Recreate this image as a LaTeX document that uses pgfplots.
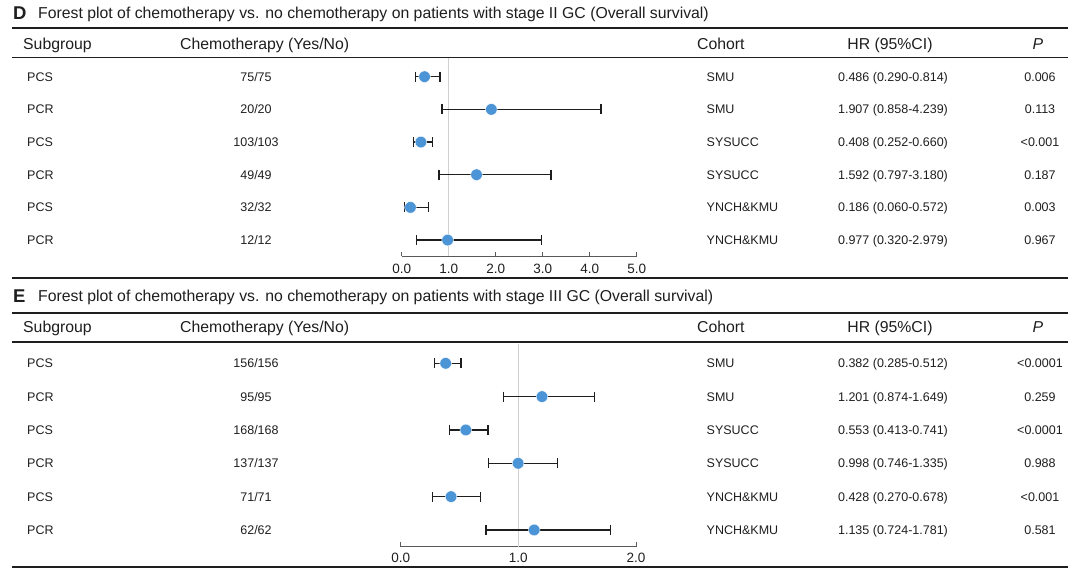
\documentclass[border=0pt]{standalone}
\usepackage{fontspec}
\setmainfont{Liberation Sans}
\usepackage{pgfplots}
\usepackage{pgfplotstable}
\pgfplotsset{compat=1.18}
\definecolor{dotblue}{RGB}{75,148,214}
\definecolor{ink}{RGB}{30,30,30}
\newcommand\rowfont{\fontsize{12.5}{15}\selectfont}
\newcommand\hdrfont{\fontsize{15.8}{18}\selectfont}
\pgfplotstableread{
hr lo hi y
0.486 0.290 0.814 1
1.907 0.858 4.239 2
0.408 0.252 0.660 3
1.592 0.797 3.180 4
0.186 0.060 0.572 5
0.977 0.320 2.979 6
}\dataD
\pgfplotstableread{
hr lo hi y
0.382 0.285 0.512 1
1.201 0.874 1.649 2
0.553 0.413 0.741 3
0.998 0.746 1.335 4
0.428 0.270 0.678 5
1.135 0.724 1.781 6
}\dataE
\tikzset{rowtxt/.style={inner sep=0pt, font=\rowfont, text=ink},
 hdr/.style={inner sep=0pt, font=\hdrfont, text=ink}}
\newcommand\trow[6]{%
\node[rowtxt,anchor=base west] at (27,{-(#1)-4.5}) {#2};
\node[rowtxt,anchor=base] at (256,{-(#1)-4.5}) {#3};
\node[rowtxt,anchor=base west] at (706.5,{-(#1)-4.5}) {#4};
\node[rowtxt,anchor=base] at (893,{-(#1)-4.5}) {#5};
\node[rowtxt,anchor=base] at (1040,{-(#1)-4.5}) {#6};}
\newcommand\thead[1]{%
\node[hdr,anchor=base west] at (23,{-(#1)-5.5}) {Subgroup};
\node[hdr,anchor=base west] at (180,{-(#1)-5.5}) {Chemotherapy (Yes/No)};
\node[hdr,anchor=base west] at (697,{-(#1)-5.5}) {Cohort};
\node[hdr,anchor=base] at (890,{-(#1)-5.5}) {HR (95\%CI)};
\node[hdr,anchor=base] at (1038,{-(#1)-5.5}) {\itshape P};}
% confidence interval segment with end caps, drawn through the axis
\newcommand\ci[3]{\addplot[ink, line width=1.4pt, mark=|, mark size=5pt,
  mark options={line width=1.4pt}] coordinates {(#1,#3) (#2,#3)};}
\pgfplotsset{forest/.style={
 scale only axis, clip=false,
 y dir=reverse,
 axis x line=bottom, axis y line=none,
 axis line style={-, black!65, line width=0.9pt},
 tick style={black!65, line width=0.9pt},
 tick align=inside, major tick length=4.5pt,
 xticklabel style={font=\fontsize{13.5}{15}\selectfont, text=ink, yshift=-4.5pt},
 /pgf/number format/fixed, /pgf/number format/fixed zerofill,
 /pgf/number format/precision=1, /pgf/number format/assume math mode=true,
}}
\begin{document}
\begin{tikzpicture}[x=1pt,y=1pt]
\path (0,0) rectangle (1080,-573);
% ---------- Panel D ----------
\node[anchor=base west, inner sep=0pt, text=ink] at (13,-19.6) {\fontsize{18.5}{20}\selectfont\bfseries D};
\node[anchor=base west, inner sep=0pt, text=ink] at (38,-18.5) {\hdrfont Forest plot of chemotherapy vs. no chemotherapy on patients with stage II GC (Overall survival)};
\draw[line width=1.8pt, ink] (12,-28.3) -- (1068,-28.3);
\thead{43.5}
\draw[line width=1.8pt, ink] (12,-57.5) -- (1068,-57.5);
\trow{76.7}{PCS}{75/75}{SMU}{0.486 (0.290-0.814)}{0.006}
\trow{109.4}{PCR}{20/20}{SMU}{1.907 (0.858-4.239)}{0.113}
\trow{142.0}{PCS}{103/103}{SYSUCC}{0.408 (0.252-0.660)}{<0.001}
\trow{174.7}{PCR}{49/49}{SYSUCC}{1.592 (0.797-3.180)}{0.187}
\trow{207.4}{PCS}{32/32}{YNCH\&KMU}{0.186 (0.060-0.572)}{0.003}
\trow{240.0}{PCR}{12/12}{YNCH\&KMU}{0.977 (0.320-2.979)}{0.967}
\draw[line width=1.8pt, ink] (12,-278.3) -- (1068,-278.3);
\begin{axis}[forest, at={(401.7pt,-256pt)}, anchor=south west,
 width=235pt, height=198.5pt,
 xmin=0, xmax=5, ymin=0.412, ymax=6.488, xtick={0,1,2,3,4,5}]
\addplot[black!18, line width=1pt] coordinates {(1,0.412) (1,6.488)};
\ci{0.290}{0.814}{1}
\ci{0.858}{4.239}{2}
\ci{0.252}{0.660}{3}
\ci{0.797}{3.180}{4}
\ci{0.060}{0.572}{5}
\ci{0.320}{2.979}{6}
\addplot[only marks, mark=*, mark size=5.8pt, mark options={draw=white, line width=0.4pt, fill=dotblue}]
 table[x=hr, y=y] {\dataD};
\end{axis}
% ---------- Panel E ----------
\node[anchor=base west, inner sep=0pt, text=ink] at (13,-302.6) {\fontsize{18.5}{20}\selectfont\bfseries E};
\node[anchor=base west, inner sep=0pt, text=ink] at (38,-301.5) {\hdrfont Forest plot of chemotherapy vs. no chemotherapy on patients with stage III GC (Overall survival)};
\draw[line width=1.8pt, ink] (12,-313) -- (1068,-313);
\thead{326.5}
\draw[line width=1.8pt, ink] (12,-341.7) -- (1068,-341.7);
\trow{363.3}{PCS}{156/156}{SMU}{0.382 (0.285-0.512)}{<0.0001}
\trow{396.6}{PCR}{95/95}{SMU}{1.201 (0.874-1.649)}{0.259}
\trow{430.0}{PCS}{168/168}{SYSUCC}{0.553 (0.413-0.741)}{<0.0001}
\trow{463.3}{PCR}{137/137}{SYSUCC}{0.998 (0.746-1.335)}{0.988}
\trow{496.6}{PCS}{71/71}{YNCH\&KMU}{0.428 (0.270-0.678)}{<0.001}
\trow{530.0}{PCR}{62/62}{YNCH\&KMU}{1.135 (0.724-1.781)}{0.581}
\draw[line width=1.8pt, ink] (12,-566.7) -- (1068,-566.7);
\begin{axis}[forest, at={(400.7pt,-546.7pt)}, anchor=south west,
 width=235.3pt, height=205pt,
 xmin=0, xmax=2, ymin=0.352, ymax=6.502, xtick={0,1,2},
 xticklabel style={yshift=2pt}]
\addplot[black!18, line width=1pt] coordinates {(1,0.42) (1,6.502)};
\ci{0.285}{0.512}{1}
\ci{0.874}{1.649}{2}
\ci{0.413}{0.741}{3}
\ci{0.746}{1.335}{4}
\ci{0.270}{0.678}{5}
\ci{0.724}{1.781}{6}
\addplot[only marks, mark=*, mark size=5.8pt, mark options={draw=white, line width=0.4pt, fill=dotblue}]
 table[x=hr, y=y] {\dataE};
\end{axis}
\end{tikzpicture}
\end{document}
